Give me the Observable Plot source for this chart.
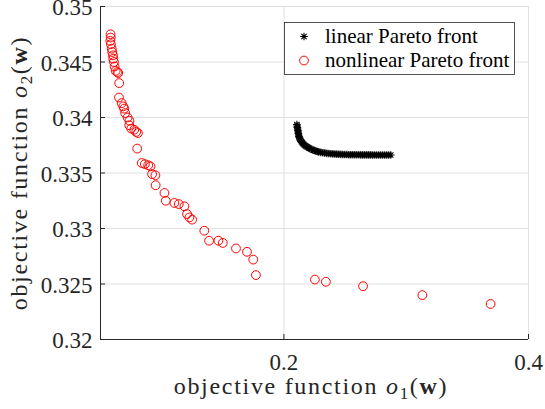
<!DOCTYPE html>
<html><head><meta charset="utf-8">
<script src="https://cdn.jsdelivr.net/npm/d3@7"></script>
<script src="https://cdn.jsdelivr.net/npm/@observablehq/plot@0.6"></script>
<style>
body{margin:0;background:#fff}
#chart svg, #chart svg text, #chart svg tspan { font-family: "Liberation Serif", "Times New Roman", serif !important; }
</style>
</head><body><div id="chart"></div>
<script>
// ---- data ----
const linearX = [0.21061,0.21078,0.21102,0.21118,0.21143,0.21159,0.21184,0.21200,0.21224,0.21265,0.21306,0.21363,0.21429,0.21486,0.21551,0.21633,0.21714,0.21812,0.21918,0.22016,0.22122,0.22245,0.22367,0.22490,0.22612,0.22735,0.22857,0.23020,0.23184,0.23347,0.23510,0.23673,0.23837,0.24000,0.24163,0.24327,0.24490,0.24653,0.24816,0.24980,0.25143,0.25306,0.25469,0.25633,0.25796,0.25959,0.26122,0.26286,0.26449,0.26612,0.26776,0.26939,0.27102,0.27265,0.27429,0.27592,0.27755,0.27918,0.28082,0.28245,0.28408,0.28571,0.28735];
const linearY = [0.33937,0.33923,0.33910,0.33896,0.33883,0.33869,0.33856,0.33842,0.33829,0.33817,0.33806,0.33795,0.33784,0.33775,0.33766,0.33757,0.33748,0.33741,0.33734,0.33727,0.33721,0.33714,0.33707,0.33703,0.33698,0.33694,0.33689,0.33686,0.33683,0.33680,0.33677,0.33676,0.33674,0.33672,0.33671,0.33670,0.33669,0.33668,0.33667,0.33666,0.33666,0.33665,0.33665,0.33665,0.33664,0.33664,0.33664,0.33663,0.33663,0.33663,0.33663,0.33663,0.33663,0.33662,0.33662,0.33662,0.33662,0.33662,0.33662,0.33662,0.33662,0.33662,0.33662];
const nonlinearX = [0.0582,0.0584,0.0580,0.0585,0.0592,0.0596,0.0602,0.0604,0.0610,0.0615,0.0624,0.0639,0.0645,0.0653,0.0651,0.0673,0.0686,0.0694,0.0702,0.0722,0.0737,0.0735,0.0751,0.0776,0.0792,0.0806,0.0800,0.0837,0.0863,0.0890,0.0909,0.0922,0.0949,0.0951,0.1023,0.1034,0.1104,0.1140,0.1186,0.1208,0.1227,0.1249,0.1349,0.1388,0.1464,0.1500,0.1608,0.1698,0.1749,0.1771,0.2253,0.2343,0.2647,0.3132,0.3690];
const nonlinearY = [0.3475,0.3472,0.3469,0.3466,0.3462,0.3459,0.3456,0.3453,0.3450,0.3446,0.3442,0.3441,0.3440,0.3431,0.3418,0.3413,0.3410,0.3408,0.3404,0.3400,0.3397,0.3393,0.3390,0.3389,0.3387,0.3386,0.3372,0.3359,0.3358,0.3357,0.3356,0.3349,0.3348,0.3339,0.3332,0.3325,0.3323,0.3322,0.3320,0.3313,0.3310,0.3308,0.3298,0.3289,0.3289,0.3287,0.3282,0.3279,0.3272,0.3258,0.3254,0.3252,0.3248,0.3240,0.3232];
const xTicks = [0.2, 0.4];
const xTickLabels = ["0.2", "0.4"];
const yTicks = [0.32, 0.325, 0.33, 0.335, 0.34, 0.345, 0.35];
const yTickLabels = ["0.32", "0.325", "0.33", "0.335", "0.34", "0.345", "0.35"];
const seriesNames = ["linear Pareto front", "nonlinear Pareto front"];

const linear = linearX.map((x, i) => ({x, y: linearY[i]}));
const nonlinear = nonlinearX.map((x, i) => ({x, y: nonlinearY[i]}));

const asterisk8 = {
  draw(ctx, size) {
    const r = Math.sqrt(size / Math.PI), d = r * Math.SQRT1_2;
    ctx.moveTo(-r, 0); ctx.lineTo(r, 0);
    ctx.moveTo(0, -r); ctx.lineTo(0, r);
    ctx.moveTo(-d, -d); ctx.lineTo(d, d);
    ctx.moveTo(-d, d); ctx.lineTo(d, -d);
  }
};

const ink = "#262626";
const gridC = "#e1e1e1";

const chart = Plot.plot({
  width: 545, height: 409,
  marginLeft: 100, marginRight: 17, marginTop: 6, marginBottom: 70,
  x: {domain: [0.05, 0.4]},
  y: {domain: [0.32, 0.35]},
  style: {background: "white", color: ink, fontSize: "23px", overflow: "visible"},
  marks: [
    Plot.gridY(yTicks, {stroke: gridC, strokeOpacity: 1}),
    Plot.gridX(xTicks, {stroke: gridC, strokeOpacity: 1}),
    Plot.dot(linear, {x: "x", y: "y", symbol: asterisk8, r: 3.8, stroke: "black", fill: "none", strokeWidth: 1.1}),
    Plot.dot(nonlinear, {x: "x", y: "y", r: 4.4, stroke: "#ff0000", fill: "none", strokeWidth: 1}),
    Plot.ruleX([0.05], {stroke: ink, strokeWidth: 1}),
    Plot.ruleY([0.32], {stroke: ink, strokeWidth: 1}),
    Plot.tickY(yTicks, {y: d => d, stroke: ink, insetRight: 423}),
    Plot.tickX(xTicks, {x: d => d, stroke: ink, insetTop: 328}),
    Plot.axisY(yTicks, {tickSize: 0, tickPadding: 8, dy: 1.5, fontSize: 23, fill: ink, label: null,
      tickFormat: d => yTickLabels[yTicks.indexOf(d)]}),
    Plot.axisX(xTicks, {tickSize: 0, tickPadding: 14, fontSize: 23, fill: ink, label: null,
      tickFormat: d => xTickLabels[xTicks.indexOf(d)]})
  ]
});
document.getElementById("chart").appendChild(chart);

const svg = d3.select(chart);

// axis labels with math formatting
function mathLabel(sel, sub) {
  sel.append("tspan").text("objective function ");
  sel.append("tspan").attr("font-style", "italic").text("o");
  sel.append("tspan").attr("font-size", 17).attr("dy", 5).text(sub);
  sel.append("tspan").attr("dy", -5).text("(");
  sel.append("tspan").attr("font-weight", "bold").text("w");
  sel.append("tspan").text(")");
}
const xl = svg.append("text").attr("x", 311).attr("y", 394)
  .attr("text-anchor", "middle").attr("font-size", 24).attr("fill", ink)
  .attr("letter-spacing", 1.7);
mathLabel(xl, "1");
const yl = svg.append("text").attr("transform", "translate(27,173) rotate(-90)")
  .attr("text-anchor", "middle").attr("font-size", 24).attr("fill", ink)
  .attr("letter-spacing", 1.7);
mathLabel(yl, "2");

// legend
const lg = svg.append("g").attr("font-size", 21)
  .attr("fill", "black").attr("text-anchor", "start");
lg.append("rect").attr("x", 284.5).attr("y", 22.5).attr("width", 230).attr("height", 52)
  .attr("fill", "white").attr("stroke", ink).attr("stroke-width", 0.8);
lg.append("path").attr("transform", "translate(304,36.5)")
  .attr("d", d3.symbol(asterisk8, Math.PI * 3.8 * 3.8)())
  .attr("stroke", "black").attr("stroke-width", 1.1).attr("fill", "none");
lg.append("circle").attr("cx", 304).attr("cy", 60.5).attr("r", 4.4)
  .attr("stroke", "#ff0000").attr("fill", "none");
lg.append("text").attr("x", 325).attr("y", 43).text(seriesNames[0]);
lg.append("text").attr("x", 325).attr("y", 67).text(seriesNames[1]);
</script>
</body></html>
